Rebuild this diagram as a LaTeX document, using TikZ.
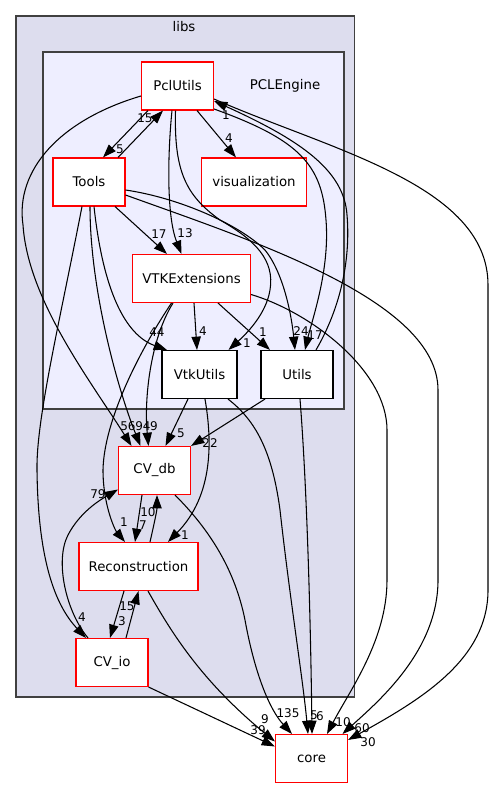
\documentclass[tikz,border=0pt]{standalone}
\usepackage{fontspec}
\setmainfont{DejaVu Sans}
\usetikzlibrary{positioning,calc,arrows.meta}
\definecolor{libsfill}{HTML}{DDDDEE}
\definecolor{pclfill}{HTML}{EEEEFF}
\definecolor{clusterline}{HTML}{404040}

\begin{document}
\begin{tikzpicture}[x=0.75pt,y=-0.75pt,
	dirnode/.style={draw=red,fill=white,line width=0.8pt,minimum width=54pt,minimum height=36pt,inner sep=0pt,font=\fontsize{10}{12}\selectfont},
	leafnode/.style={dirnode,draw=black},
	dep/.style={-{Triangle[length=10pt,width=7pt]},line width=0.8pt},
	lab/.style={inner sep=0pt,font=\fontsize{9}{10}\selectfont},
	cluster/.style={draw=clusterline,line width=1.2pt}]
		\useasboundingbox (0,0) rectangle (495,788);
		% clusters
		\draw [cluster,fill=libsfill] (16,16) rectangle (354.5,697);
		\node [lab,font=\fontsize{10}{12}\selectfont] (libs) at (184,27) {libs};
		\draw [cluster,fill=pclfill] (43,52) rectangle (344,409);
		\node [lab,font=\fontsize{10}{12}\selectfont] (pclengine) at (285,86) {PCLEngine};
		% directories
		\node [dirnode] (PclUtils) at (177.5,86) {PclUtils};
		\node [dirnode] (Tools) at (89,182) {Tools};
		\node [dirnode,minimum width=78.75pt] (visualization) at (254,182) {visualization};
		\node [dirnode,minimum width=88.5pt] (VTKExtensions) at (191.5,278.5) {VTKExtensions};
		\node [leafnode,minimum width=56.25pt] (VtkUtils) at (199.5,374.5) {VtkUtils};
		\node [leafnode] (Utils) at (297,374.5) {Utils};
		\node [dirnode] (CVdb) at (154.5,470.5) {CV\_db};
		\node [dirnode,minimum width=89.25pt] (Reconstruction) at (138.5,566.5) {Reconstruction};
		\node [dirnode] (CVio) at (112,662.5) {CV\_io};
		\node [dirnode] (core) at (311.5,758.5) {core};
		% PclUtils
		\draw [dep] ($(PclUtils.south)+(-29.5,0)$) -- ($(Tools.north)+(14,0)$);
		\draw [dep] ($(PclUtils.south)+(19.5,0)$) -- ($(visualization.north)+(-18,0)$);
		\draw [dep] ($(PclUtils.south)+(-5.5,0)$) .. controls (168,150) and (166,215) .. ($(VTKExtensions.north)+(-10,0)$);
		\draw [dep] ($(PclUtils.south)+(-2,0)$) .. controls (174,170) and (185,195) .. (220,220) .. controls (255,240) and (275,260) .. (270,290) .. controls (266,315) and (245,335) .. ($(VtkUtils.north)+(29,0)$);
		\draw [dep] ($(PclUtils.east)+(0,23)$) .. controls (300,140) and (322,165) .. (326,220) .. controls (330,270) and (312,320) .. ($(Utils.north)+(8,0)$);
		\draw [dep] ($(PclUtils.west)+(0,10)$) .. controls (60,120) and (15,170) .. (23,225) .. controls (28,300) and (90,380) .. ($(CVdb.north)+(-23,0)$);
		\draw [dep] ($(PclUtils.east)+(0,13)$) .. controls (330,150) and (488,185) .. (488,285) -- (488,590) .. controls (488,660) and (420,700) .. ($(core.north east)+(0,6)$);
		% Tools
		\draw [dep] ($(Tools.north)+(29,0)$) -- ($(PclUtils.south)+(-14.5,0)$);
		\draw [dep] ($(Tools.south)+(26,0)$) -- ($(VTKExtensions.north)+(-24.5,0)$);
		\draw [dep] ($(Tools.south)+(5,0)$) .. controls (103,290) and (125,335) .. ($(VtkUtils.north)+(-32.5,0)$);
		\draw [dep] ($(Tools.east)+(0,8)$) .. controls (180,198) and (240,225) .. (265,250) .. controls (285,275) and (292,320) .. ($(Utils.north)+(-2,0)$);
		\draw [dep] ($(Tools.south)+(1,0)$) .. controls (90,290) and (118,390) .. ($(CVdb.north)+(-14,0)$);
		\draw [dep] ($(Tools.south)+(-7,0)$) .. controls (60,320) and (36,420) .. (37,470) .. controls (38,560) and (55,605) .. ($(CVio.north)+(-26,0)$);
		\draw [dep] ($(Tools.east)+(0,13)$) .. controls (250,240) and (438,300) .. (438,390) -- (438,580) .. controls (438,650) and (380,700) .. ($(core.north)+(31,0)$);
		% VTKExtensions
		\draw [dep] ($(VTKExtensions.south)+(2.5,0)$) -- ($(VtkUtils.north)+(-2.5,0)$);
		\draw [dep] ($(VTKExtensions.south)+(26.5,0)$) -- ($(Utils.north)+(-27,0)$);
		\draw [dep] ($(VTKExtensions.south)+(-18.5,0)$) .. controls (150,340) and (144,400) .. ($(CVdb.north)+(-6,0)$);
		\draw [dep] ($(VTKExtensions.south)+(-20,0)$) .. controls (140,350) and (104,420) .. (103,470) .. controls (103,505) and (115,530) .. ($(Reconstruction.north)+(-13.5,0)$);
		\draw [dep] ($(VTKExtensions.east)+(0,16)$) .. controls (310,312) and (387,370) .. (387,430) -- (387,580) .. controls (387,640) and (350,690) .. ($(core.north)+(15.5,0)$);
		% VtkUtils and Utils
		\draw [dep] ($(VtkUtils.south)+(-11.5,0)$) -- ($(CVdb.north)+(11,0)$);
		\draw [dep] ($(VtkUtils.south)+(5.5,0)$) .. controls (212,440) and (214,495) .. ($(Reconstruction.north)+(29.5,0)$);
		\draw [dep] ($(VtkUtils.south)+(28.5,0)$) .. controls (255,420) and (272,450) .. (280,510) .. controls (290,600) and (303,680) .. ($(core.north)+(-3.5,0)$);
		\draw [dep] ($(Utils.north)+(19,0)$) .. controls (345,300) and (350,250) .. (347,215) .. controls (344,170) and (300,140) .. ($(PclUtils.east)+(0,15)$);
		\draw [dep] ($(Utils.south)+(-32,0)$) -- (CVdb.north east);
		\draw [dep] ($(Utils.south)+(3,0)$) .. controls (308,500) and (311,650) .. ($(core.north)+(0.5,0)$);
		% CV_db, Reconstruction, CV_io
		\draw [dep] ($(CVdb.south)+(-12.5,0)$) -- ($(Reconstruction.north)+(-3.5,0)$);
		\draw [dep] ($(CVdb.south)+(20.5,0)$) .. controls (210,530) and (235,570) .. (245,620) .. controls (255,675) and (270,710) .. ($(core.north)+(-19.5,0)$);
		\draw [dep] ($(Reconstruction.north)+(11.5,0)$) .. controls (155,520) and (157,510) .. ($(CVdb.south)+(2.5,0)$);
		\draw [dep] ($(Reconstruction.south)+(-14.5,0)$) -- ($(CVio.north)+(-2,0)$);
		\draw [dep] ($(Reconstruction.south)+(9.5,0)$) .. controls (170,630) and (200,680) .. ($(core.west)+(0,-17)$);
		\draw [dep] ($(CVio.north)+(-24,0)$) .. controls (65,610) and (55,560) .. (68,535) .. controls (80,512) and (100,500) .. ($(CVdb.west)+(0,19)$);
		\draw [dep] ($(CVio.north)+(14,0)$) -- (Reconstruction.south);
		\draw [dep] (CVio.south east) -- ($(core.west)+(0,-12)$);
		% edge labels
		\foreach \x/\y/\t [count=\i] in {120/149/5, 145/118/15, 229/138/4, 226/115/1, 185/233/13,
			159/234/17, 157/332/44, 203/331/4, 247/343/1, 263/332/1, 301/331/24, 315/335/17,
			128/426/56, 143/426/94, 154/426/9, 181/433/5, 210/443/22, 98/494/79, 148/512/10,
			143/525/7, 124/522/1, 185/535/1, 127/606/15, 122/621/3, 82/617/4, 265/719/9,
			258/730/39, 288/713/135, 314/715/5, 320/716/6, 343/722/10, 362/728/60, 368/742/30}
			\node [lab] (lab\i) at (\x,\y) {\t};
\end{tikzpicture}
\end{document}
